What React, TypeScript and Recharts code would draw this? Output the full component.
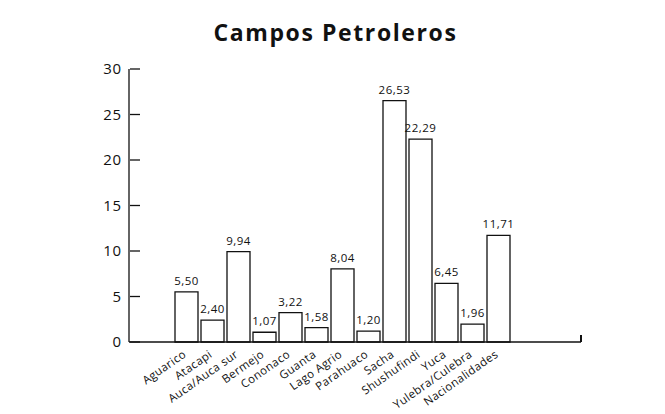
import { BarChart, Bar, XAxis, YAxis, LabelList } from 'recharts';

const campos = [
  'Aguarico',
  'Atacapi',
  'Auca/Auca sur',
  'Bermejo',
  'Cononaco',
  'Guanta',
  'Lago Agrio',
  'Parahuaco',
  'Sacha',
  'Shushufindi',
  'Yuca',
  'Yulebra/Culebra',
  'Nacionalidades',
];
const valores = [5.5, 2.4, 9.94, 1.07, 3.22, 1.58, 8.04, 1.2, 26.53, 22.29, 6.45, 1.96, 11.71];
const yTicks = [0, 5, 10, 15, 20, 25, 30];

const data = campos.map((campo, i) => ({ campo, valor: valores[i] }));

const FONT = '"Open Sans", "DejaVu Sans", sans-serif';

function YTick(props: any) {
  const { x, y, payload } = props;
  return (
    <g>
      <text x={x} y={y} dy="0.36em" textAnchor="end" fontSize={15} letterSpacing={0.8} fontFamily={FONT} fill="#111">
        {payload.value}
      </text>
      <line x1={x + 8} x2={x + 18} y1={y} y2={y} stroke="#111" strokeWidth={1.3} />
    </g>
  );
}

function XTick(props: any) {
  const { x, y, payload } = props;
  const ax = x + 1;
  const ay = y + 14;
  return (
    <text
      x={ax}
      y={ay}
      textAnchor="end"
      fontSize={11.5}
      letterSpacing={0.4}
      fontFamily={FONT}
      fill="#111"
      transform={`rotate(-35, ${ax}, ${ay})`}
    >
      {payload.value}
    </text>
  );
}

export default function App() {
  return (
    <div style={{ position: 'absolute', left: 0, top: 0, width: 665, height: 414, background: '#fff' }}>
      <div
        style={{
          position: 'absolute',
          left: 0,
          width: 665,
          top: 16,
          textAlign: 'center',
          fontFamily: FONT,
          fontWeight: 700,
          fontSize: 23,
          letterSpacing: 1.6,
          color: '#111',
          paddingLeft: 3,
        }}
      >
        Campos Petroleros
      </div>
      <BarChart
        width={665}
        height={414}
        data={data}
        margin={{ top: 69, right: 84, bottom: 12, left: 89 }}
      >
        <XAxis
          dataKey="campo"
          interval={0}
          height={60}
          tickSize={0}
          tickMargin={0}
          tickLine={false}
          axisLine={{ stroke: '#111', strokeWidth: 1.3 }}
          padding={{ left: 44, right: 70 }}
          tick={<XTick />}
        />
        <YAxis
          domain={[0, 30]}
          ticks={yTicks}
          width={40}
          tickSize={0}
          tickMargin={7}
          tickLine={false}
          axisLine={{ stroke: '#111', strokeWidth: 1.3 }}
          tick={<YTick />}
        />
        <Bar dataKey="valor" fill="#fff" stroke="#111" strokeWidth={1.3} barSize={23} isAnimationActive={false}>
          <LabelList
            dataKey="valor"
            position="top"
            offset={7}
            formatter={(v: any) => Number(v).toFixed(2).replace('.', ',')}
            style={{ fontSize: 11.5, fontFamily: FONT, fill: '#111', letterSpacing: 0.5 }}
          />
        </Bar>
      </BarChart>
      <div style={{ position: 'absolute', left: 580, top: 335, width: 1.5, height: 7, background: '#111' }} />
    </div>
  );
}
